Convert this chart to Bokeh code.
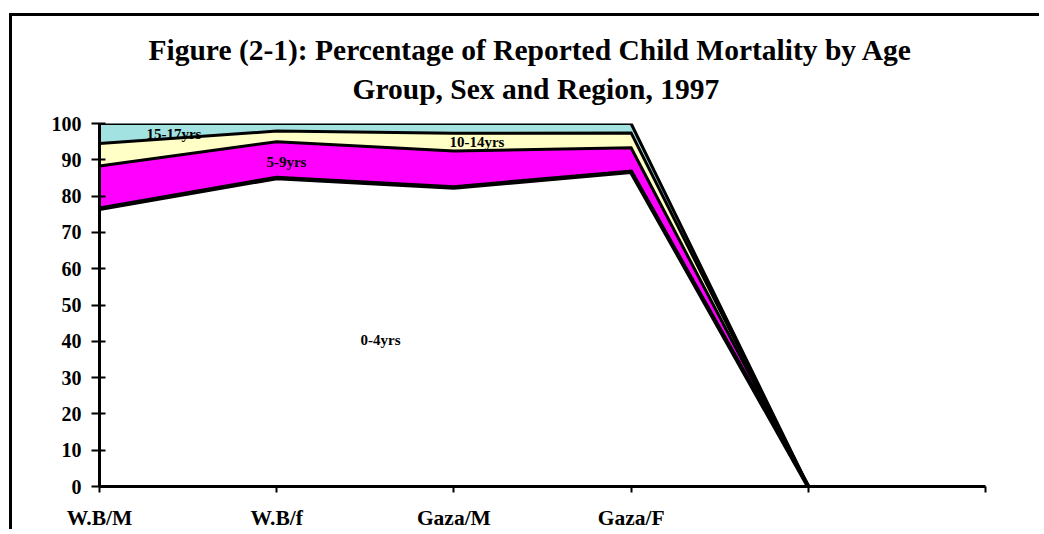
import numpy as np
from bokeh.plotting import figure
from bokeh.models import Range1d, FixedTicker, Title, ColumnDataSource
from bokeh.core.properties import value
from bokeh.embed import file_html
from bokeh.resources import INLINE

# ---- data ----
categories = ["W.B/M", "W.B/f", "Gaza/M", "Gaza/F", "", ""]
age_0_4 = [76.5, 85.0, 82.4, 86.7, 0]
age_5_9 = [11.8, 10.0, 10.0, 6.6, 0]
age_10_14 = [6.2, 2.9, 4.9, 4.1, 0]
age_15_17 = [5.5, 2.1, 2.7, 2.6, 0]
series_names = ["0-4yrs", "5-9yrs", "10-14yrs", "15-17yrs"]
series_colors = ["#FFFFFF", "#FF00FF", "#FFFFC6", "#A2E2E0"]
y_ticks = list(range(0, 101, 10))

# label anchors (data units)
label_text = ["15-17yrs", "5-9yrs", "10-14yrs", "0-4yrs"]
label_x = [0.42, 1.055, 2.13, 1.586]
label_y = [97.0, 89.3, 94.8, 40.3]

title_lines = ["Figure (2-1): Percentage of Reported Child Mortality by Age",
               "Group, Sex and Region, 1997"]

FONT = "Liberation Serif"

x = np.arange(len(age_0_4))
stack = np.array([age_0_4, age_5_9, age_10_14, age_15_17], dtype=float)
cum = np.cumsum(stack, axis=0)

p = figure(width=1030, height=516, output_backend="svg", toolbar_location=None,
           x_range=Range1d(0, len(categories) - 1), y_range=Range1d(0, 100),
           min_border_left=87, min_border_right=57, min_border_top=107,
           min_border_bottom=44,
           styles={"margin-left": "9px", "margin-top": "13px",
                   "border-left": "3px solid black", "border-top": "3px solid black"})
p.outline_line_color = None
p.xgrid.visible = False
p.ygrid.visible = False
p.background_fill_color = "white"
p.border_fill_color = "white"

# areas
lower = np.zeros(len(x))
for i in range(4):
    p.varea(x=x, y1=lower, y2=cum[i], fill_color=series_colors[i])
    lower = cum[i]
# outlines
widths = [4.5, 3, 3, 3]
for i in range(4):
    p.line(x=x, y=cum[i], line_color="black", line_width=widths[i], line_join="miter")

# labels
src = ColumnDataSource(dict(x=label_x, y=label_y, t=label_text))
p.text(x="x", y="y", text="t", source=src, text_align="center", text_baseline="middle",
       text_font=value(FONT), text_font_style="bold", text_font_size="15px", text_color="black")

# axes
for ax in (p.xaxis, p.yaxis):
    ax.axis_line_color = "black"
    ax.major_tick_line_color = "black"
    ax.major_label_text_color = "black"
    ax.major_label_text_font = FONT
    ax.major_label_text_font_style = "bold"
    ax.minor_tick_line_color = None
    ax.axis_line_width = 3
    ax.major_tick_line_width = 2

p.yaxis.ticker = FixedTicker(ticks=y_ticks)
p.yaxis.major_tick_in = 6
p.yaxis.major_tick_out = 8
p.yaxis.major_label_text_font_size = "20px"
p.yaxis.major_label_standoff = 10

p.xaxis.ticker = FixedTicker(ticks=list(range(len(categories))))
p.xaxis.major_label_overrides = {i: c for i, c in enumerate(categories)}
p.xaxis.major_tick_in = 0
p.xaxis.major_tick_out = 6
p.xaxis.major_label_text_font_size = "21.5px"
p.xaxis.major_label_standoff = 13

# title (two lines) + small spacer next to the frame
spacer = Title(text=" ", text_font_size="1px", standoff=11)
t2 = Title(text=title_lines[1], align="left", offset=253,
           text_font=FONT, text_font_style="bold", text_font_size="29.5px",
           text_color="black", standoff=10)
t1 = Title(text=title_lines[0], align="left", offset=49,
           text_font=FONT, text_font_style="bold", text_font_size="29.5px",
           text_color="black", standoff=0)
p.add_layout(spacer, "above")
p.add_layout(t2, "above")
p.add_layout(t1, "above")

open("out.html", "w").write(file_html(p, INLINE))
